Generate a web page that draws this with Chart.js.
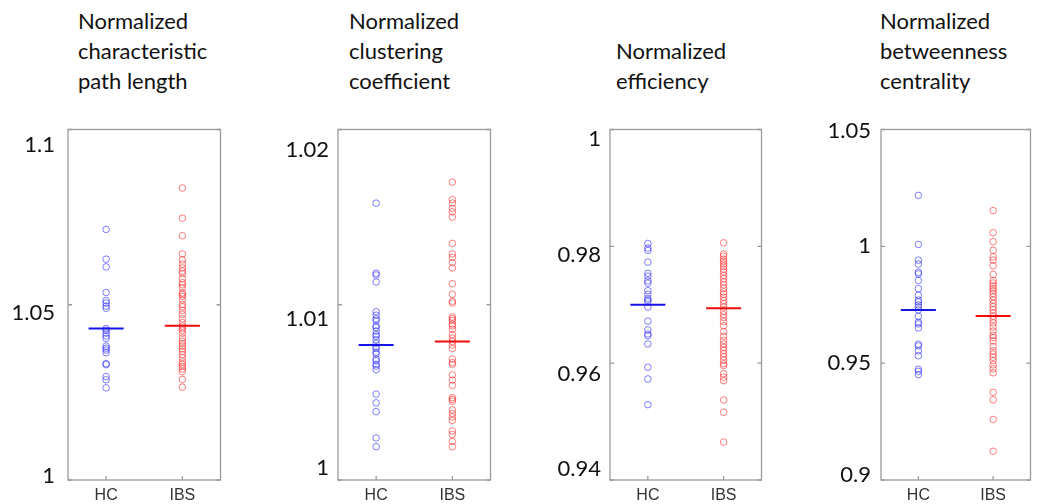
<!DOCTYPE html>
<html>
<head>
<meta charset="utf-8">
<script src="https://cdn.jsdelivr.net/npm/chart.js@4/dist/chart.umd.min.js"></script>
<style>
  html, body { margin: 0; padding: 0; background: #fff; }
  body { width: 1049px; height: 504px; overflow: hidden; position: relative; }
  .title { position: absolute; font-family: Lato, "Open Sans", sans-serif; font-size: 22px; line-height: 30px; color: #111; white-space: nowrap; }
  canvas { position: absolute; }
</style>
</head>
<body>
<script>
/* groups on the x axis */
const groups = ['HC', 'IBS']

/* Normalized characteristic path length */
const pathLengthHC = [1.0715, 1.0630, 1.0608, 1.0535, 1.0512, 1.0505, 1.0496, 1.0490, 1.0432, 1.0427, 1.0419,
    1.0411, 1.0404, 1.0382, 1.0376, 1.0371, 1.0363, 1.0332, 1.0329, 1.0295, 1.0286, 1.0263]
const pathLengthIBS = [1.0833, 1.0747, 1.0697, 1.0645, 1.0628, 1.0616, 1.0605, 1.0596, 1.0589, 1.0575, 1.0563,
    1.0557, 1.0549, 1.0534, 1.0529, 1.0524, 1.0514, 1.0501, 1.0494, 1.0484, 1.0473, 1.0460, 1.0449, 1.0439,
    1.0433, 1.0427, 1.0419, 1.0405, 1.0396, 1.0389, 1.0382, 1.0374, 1.0367, 1.0358, 1.0349, 1.0337, 1.0330,
    1.0324, 1.0317, 1.0309, 1.0287, 1.0265]

/* Normalized clustering coefficient */
const clusteringHC = [1.0158, 1.0118, 1.0117, 1.0113, 1.0096, 1.0094, 1.0092, 1.0091, 1.0088, 1.0087, 1.0085,
    1.0083, 1.0082, 1.0080, 1.0078, 1.0076, 1.0075, 1.0073, 1.0072, 1.0069, 1.0068, 1.0066, 1.0065, 1.0063,
    1.0049, 1.0044, 1.0039, 1.0024, 1.0019]
const clusteringIBS = [1.0170, 1.0160, 1.0158, 1.0155, 1.0153, 1.0150, 1.0135, 1.0129, 1.0127, 1.0124, 1.0121,
    1.0112, 1.0106, 1.0102, 1.0101, 1.0093, 1.0092, 1.0091, 1.0089, 1.0088, 1.0086, 1.0083, 1.0081, 1.0079,
    1.0077, 1.0075, 1.0069, 1.0067, 1.0066, 1.0060, 1.0057, 1.0054, 1.0047, 1.0046, 1.0045, 1.0040, 1.0038,
    1.0036, 1.0034, 1.0028, 1.0026, 1.0022, 1.0019]

/* Normalized efficiency */
const efficiencyHC = [0.9805, 0.9797, 0.9793, 0.9773, 0.9754, 0.9749, 0.9741, 0.9737, 0.9724, 0.9718, 0.9711,
    0.9708, 0.9705, 0.9696, 0.9672, 0.9657, 0.9650, 0.9647, 0.9633, 0.9593, 0.9573, 0.9529]
const efficiencyIBS = [0.9806, 0.9787, 0.9783, 0.9778, 0.9774, 0.9770, 0.9766, 0.9761, 0.9756, 0.9750, 0.9745,
    0.9739, 0.9734, 0.9728, 0.9722, 0.9718, 0.9713, 0.9707, 0.9702, 0.9696, 0.9689, 0.9683, 0.9678, 0.9671,
    0.9664, 0.9654, 0.9646, 0.9639, 0.9633, 0.9627, 0.9622, 0.9616, 0.9611, 0.9605, 0.9599, 0.9596, 0.9582,
    0.9576, 0.9570, 0.9537, 0.9516, 0.9465]

/* Normalized betweenness centrality */
const betweennessHC = [1.0218, 1.0008, 0.9941, 0.9924, 0.9889, 0.9882, 0.9854, 0.9819, 0.9791, 0.9770, 0.9762,
    0.9749, 0.9739, 0.9728, 0.9700, 0.9675, 0.9668, 0.9651, 0.9581, 0.9574, 0.9553, 0.9532, 0.9474, 0.9465, 0.9451]
const betweennessIBS = [1.0153, 1.0058, 1.0020, 0.9983, 0.9955, 0.9941, 0.9917, 0.9880, 0.9854, 0.9843, 0.9831,
    0.9819, 0.9810, 0.9798, 0.9784, 0.9770, 0.9756, 0.9742, 0.9728, 0.9714, 0.9700, 0.9686, 0.9672, 0.9655,
    0.9637, 0.9619, 0.9609, 0.9595, 0.9571, 0.9553, 0.9539, 0.9525, 0.9511, 0.9493, 0.9476, 0.9459, 0.9375,
    0.9343, 0.9259, 0.9123]

/* group means (horizontal bars) */
const meanHC = [1.0432, 1.0077, 0.9700, 0.9727]
const meanIBS = [1.0440, 1.0079, 0.9694, 0.9702]

/* axis ranges and tick steps */
const yMin = [1, 1, 0.94, 0.9]
const yMax = [1.1, 1.02, 1, 1.05]
const yStep = [0.05, 0.01, 0.02, 0.05]

const titles = [
    ['Normalized', 'characteristic', 'path length'],
    ['Normalized', 'clustering', 'coefficient'],
    ['Normalized', 'efficiency'],
    ['Normalized', 'betweenness', 'centrality']
]

const seriesHC = [pathLengthHC, clusteringHC, efficiencyHC, betweennessHC]
const seriesIBS = [pathLengthIBS, clusteringIBS, efficiencyIBS, betweennessIBS]

/* layout of each panel: box left/right, title position, tick label nudges (bottom -> top) */
const layout = [
    { left: 68, right: 237, titleX: 78, titleY: 6, gap: 13, shift: [-4, 8, 15] },
    { left: 338, right: 507, titleX: 349, titleY: 6, gap: 9, shift: [-12, 14, 20] },
    { left: 610, right: 778, titleX: 616, titleY: 36, gap: 9, shift: [-11, 11, 9, 9] },
    { left: 881, right: 1047, titleX: 880, titleY: 6, gap: 10, shift: [-5, 0, 0, 1] }
]
const AXIS_W = 68
const TOP = 110
const HEIGHT = 394

/* box with inward ticks + big y labels, drawn like the matlab figure */
const boxPlugin = {
    id: 'boxPlugin',
    afterDraw(chart, args, opts) {
        const ctx = chart.ctx
        const a = chart.chartArea
        const y = chart.scales.y
        const x = chart.scales.x
        ctx.save()
        ctx.strokeStyle = '#9a9a9a'
        ctx.lineWidth = 1.3
        ctx.strokeRect(a.left, a.top, a.right - a.left, a.bottom - a.top)
        ctx.beginPath()
        y.ticks.forEach(t => {
            const py = y.getPixelForValue(t.value)
            ctx.moveTo(a.left, py); ctx.lineTo(a.left + 4, py)
            ctx.moveTo(a.right, py); ctx.lineTo(a.right - 4, py)
        })
        groups.forEach((g, i) => {
            const px = x.getPixelForValue(i)
            ctx.moveTo(px, a.bottom); ctx.lineTo(px, a.bottom - 4)
        })
        ctx.stroke()

        ctx.fillStyle = '#111'
        ctx.font = '22px Lato, "Open Sans", sans-serif'
        ctx.textAlign = 'right'
        ctx.textBaseline = 'middle'
        y.ticks.forEach((t, i) => {
            const py = y.getPixelForValue(t.value) + (opts.shift[i] || 0)
            ctx.fillText(String(Number(t.value.toFixed(4))), a.left - opts.gap, py)
        })
        ctx.restore()
    }
}

titles.forEach((lines, i) => {
    const div = document.createElement('div')
    div.className = 'title'
    div.style.left = layout[i].titleX + 'px'
    div.style.top = layout[i].titleY + 'px'
    div.innerHTML = lines.join('<br>')
    document.body.appendChild(div)
})

seriesHC.forEach((hc, i) => {
    const L = layout[i]
    const width = AXIS_W + (L.right - L.left) + 3
    const canvas = document.createElement('canvas')
    canvas.style.left = (L.left - AXIS_W) + 'px'
    canvas.style.top = TOP + 'px'
    canvas.style.width = width + 'px'
    canvas.style.height = HEIGHT + 'px'
    canvas.width = width
    canvas.height = HEIGHT
    document.body.appendChild(canvas)

    const ibs = seriesIBS[i]
    new Chart(canvas, {
        type: 'scatter',
        data: {
            datasets: [
                {
                    data: [{ x: 'HC', y: meanHC[i] }],
                    pointStyle: 'line', pointRadius: 17.5, borderWidth: 2,
                    borderColor: 'rgb(20,20,235)', order: 0
                },
                {
                    data: [{ x: 'IBS', y: meanIBS[i] }],
                    pointStyle: 'line', pointRadius: 17.5, borderWidth: 2,
                    borderColor: 'rgb(240,10,10)', order: 0
                },
                {
                    data: hc.map(v => ({ x: 'HC', y: v })),
                    pointRadius: 3.3, borderWidth: 1,
                    borderColor: 'rgba(40,40,255,0.6)', backgroundColor: 'rgba(0,0,0,0)', order: 1
                },
                {
                    data: ibs.map(v => ({ x: 'IBS', y: v })),
                    pointRadius: 3.3, borderWidth: 1,
                    borderColor: 'rgba(255,40,40,0.6)', backgroundColor: 'rgba(0,0,0,0)', order: 1
                }
            ]
        },
        options: {
            responsive: false,
            animation: false,
            layout: { padding: { top: 12, right: 3, left: 0, bottom: 0 } },
            plugins: {
                legend: { display: false },
                tooltip: { enabled: false },
                boxPlugin: { gap: L.gap, shift: L.shift }
            },
            scales: {
                x: {
                    type: 'category',
                    labels: groups,
                    offset: true,
                    grid: { display: false, drawTicks: false },
                    border: { display: false },
                    ticks: { color: '#333', padding: 6, font: { family: '"Liberation Sans", Arial, sans-serif', size: 16 } },
                    afterFit: s => { s.height = 24 }
                },
                y: {
                    min: yMin[i],
                    max: yMax[i],
                    grid: { display: false, drawTicks: false },
                    border: { display: false },
                    ticks: { display: false, stepSize: yStep[i] },
                    afterFit: s => { s.width = AXIS_W }
                }
            }
        },
        plugins: [boxPlugin]
    })
})
</script>
</body>
</html>
